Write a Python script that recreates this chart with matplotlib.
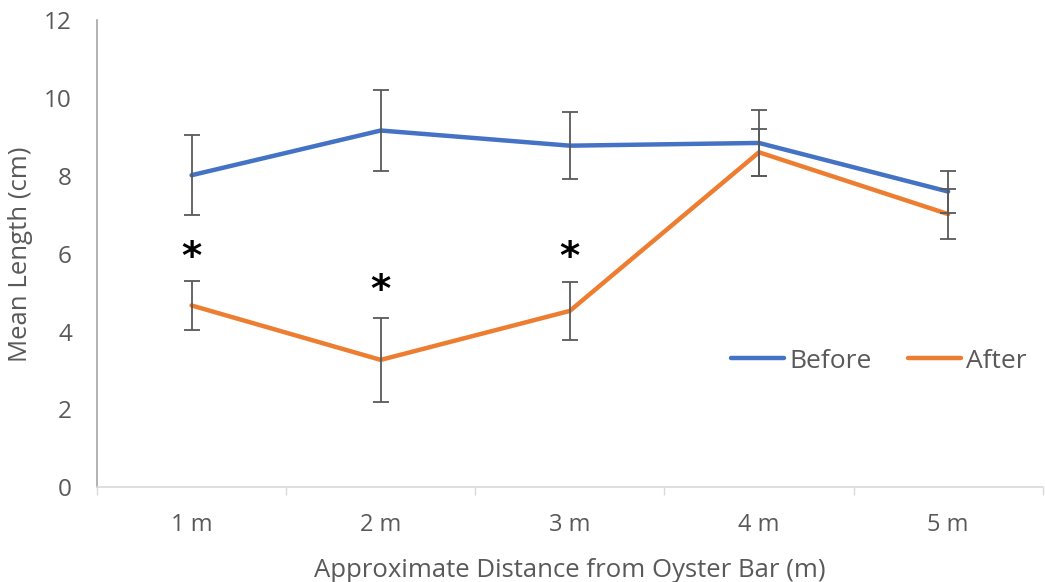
import matplotlib
matplotlib.use("Agg")
import matplotlib.pyplot as plt
import numpy as np

categories = ["1 m", "2 m", "3 m", "4 m", "5 m"]
before = [8.02, 9.17, 8.78, 8.85, 7.60]
before_err = [1.03, 1.04, 0.86, 0.84, 0.54]
after = [4.67, 3.27, 4.53, 8.61, 7.02]
after_err = [0.64, 1.08, 0.74, 0.60, 0.65]
star_cats = ["1 m", "2 m", "3 m"]
star_y = [5.9, 5.05, 5.9]

plt.rcParams['font.family'] = ['Open Sans', 'DejaVu Sans']

fig = plt.figure(figsize=(10.45, 5.82), dpi=100)
ax = fig.add_axes([0.0928, 0.1632, 0.905, 0.8016])

x = np.arange(1, len(categories) + 1)
blue = "#4472C4"
orange = "#ED7D31"
errc = "#595959"

ax.plot(x, before, color=blue, lw=3.2, label="Before", solid_capstyle="round", zorder=3)
ax.plot(x, after, color=orange, lw=3.2, label="After", solid_capstyle="round", zorder=3)
ax.errorbar(x, before, yerr=before_err, fmt="none", ecolor=errc, elinewidth=1.3, capsize=6, capthick=1.3, zorder=4)
ax.errorbar(x, after, yerr=after_err, fmt="none", ecolor=errc, elinewidth=1.3, capsize=6, capthick=1.3, zorder=4)

for c, yv in zip(star_cats, star_y):
    ax.text(categories.index(c) + 1, yv, "*", ha="center", va="center", fontsize=28,
            fontweight="bold", color="black", family=["DejaVu Sans"])

ax.set_xlim(0.5, 5.5)
ax.set_ylim(0, 12)
ax.set_yticks([0, 2, 4, 6, 8, 10, 12])
ax.set_xticks(x)
ax.set_xticklabels(categories)
ax.set_xticks(np.arange(0.5, 5.6, 0.5), minor=True)
ax.tick_params(axis="x", which="major", length=0, pad=18.5, labelsize=17, labelcolor="#595959")
ax.tick_params(axis="x", which="minor", length=6, width=1, color="#d9d9d9")
ax.tick_params(axis="y", length=0, pad=18, labelsize=17.5, labelcolor="#595959")

for s in ["top", "right"]:
    ax.spines[s].set_visible(False)
ax.spines["left"].set_color("#a6a6a6")
ax.spines["left"].set_linewidth(1.2)
ax.spines["bottom"].set_color("#d9d9d9")
ax.spines["bottom"].set_linewidth(1.2)

ax.set_xlabel("Approximate Distance from Oyster Bar (m)", fontsize=18.5, color="#595959", labelpad=15)
ax.set_ylabel("Mean Length (cm)", fontsize=18.5, color="#595959", labelpad=8)

leg = ax.legend(loc="center", bbox_to_anchor=(0.827, 0.27), ncol=2, frameon=False,
                fontsize=19, handlelength=2.0, handletextpad=0.2, columnspacing=1.4)
for t in leg.get_texts():
    t.set_color("#595959")

fig.savefig("out.png", dpi=100)
